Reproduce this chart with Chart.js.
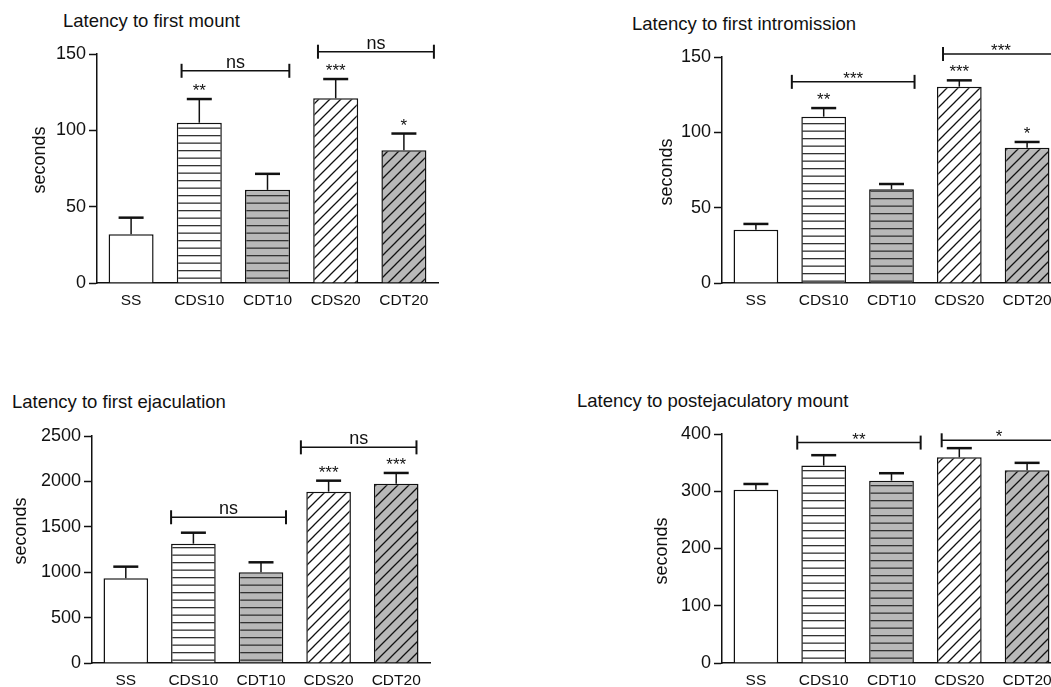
<!DOCTYPE html>
<html>
<head>
<meta charset="utf-8">
<script src="https://cdn.jsdelivr.net/npm/chart.js@4.4.1/dist/chart.umd.min.js"></script>
<style>
  html, body { margin: 0; padding: 0; background: #fff; }
  body { position: relative; width: 1051px; height: 687px; overflow: hidden; }
  .ttl { position: absolute; font-family: 'Liberation Sans', Arial, sans-serif; font-size: 18.5px; line-height: 18px; color: #111; white-space: nowrap; }
</style>
</head>
<body>
<div class="ttl" style="left:63px; top:12px;">Latency to first mount</div>
<div class="ttl" style="left:632px; top:15px;">Latency to first intromission</div>
<div class="ttl" style="left:12px; top:393px;">Latency to first ejaculation</div>
<div class="ttl" style="left:577px; top:392px;">Latency to postejaculatory mount</div>
<script>
// groups on the x axis
var groups = ['SS', 'CDS10', 'CDT10', 'CDS20', 'CDT20']

// latency to first mount (s)
var mountMean = [32, 105, 61, 121, 87]
var mountSem = [10.8, 15.5, 10.5, 12.6, 10.9]
var mountStars = ['', '**', '', '***', '*']
var mountBrackets = [
  { from: 0.74, to: 2.32, y: 139, label: 'ns' },
  { from: 2.74, to: 4.44, y: 151.5, label: 'ns' }
]

// latency to first intromission (s)
var introMean = [35.4, 110.4, 62.2, 130.3, 89.8]
var introSem = [3.8, 5.7, 3.5, 4.2, 3.8]
var introStars = ['', '**', '', '***', '*']
var introBrackets = [
  { from: 0.53, to: 2.34, y: 133.5, label: '***' },
  { from: 2.76, to: 4.47, y: 152, label: '***' }
]

// latency to first ejaculation (s)
var ejacMean = [933, 1314, 999, 1887, 1975]
var ejacSem = [128, 121, 110, 121, 118]
var ejacStars = ['', '', '', '***', '***']
var ejacBrackets = [
  { from: 0.67, to: 2.37, y: 1605, label: 'ns' },
  { from: 2.59, to: 4.30, y: 2375, label: 'ns' }
]

// latency to postejaculatory mount (s)
var postMean = [302.7, 345, 318.5, 359.3, 336.6]
var postSem = [10, 18, 13, 16, 13]
var postStars = ['', '', '', '', '']
var postBrackets = [
  { from: 0.61, to: 2.43, y: 385, label: '**' },
  { from: 2.74, to: 4.43, y: 389, label: '*' }
]

var FONT = "'Liberation Sans', Arial, sans-serif"
var INK = '#111'
var GRAY = '#b8b8b8'

// fill patterns for the bars
function stripes(bg) {
  var c = document.createElement('canvas')
  c.width = 8; c.height = 15
  var g = c.getContext('2d')
  g.fillStyle = bg
  g.fillRect(0, 0, 8, 15)
  g.fillStyle = '#333'
  g.fillRect(0, 0, 8, 1.3)
  g.fillRect(0, 7.5, 8, 1.3)
  return g.createPattern(c, 'repeat')
}

function hatch(bg) {
  var s = 11
  var c = document.createElement('canvas')
  c.width = s; c.height = s
  var g = c.getContext('2d')
  g.fillStyle = bg
  g.fillRect(0, 0, s, s)
  g.strokeStyle = INK
  g.lineWidth = 1.3
  g.beginPath()
  g.moveTo(-1, s + 1); g.lineTo(s + 1, -1)
  g.moveTo(-1, 1); g.lineTo(1, -1)
  g.moveTo(s - 1, s + 1); g.lineTo(s + 1, s - 1)
  g.stroke()
  return g.createPattern(c, 'repeat')
}

var fills = ['#ffffff', stripes('#ffffff'), stripes(GRAY), hatch('#ffffff'), hatch(GRAY)]

function line(ctx, x1, y1, x2, y2) {
  ctx.beginPath()
  ctx.moveTo(x1, y1)
  ctx.lineTo(x2, y2)
  ctx.stroke()
}

// error bars, stars, comparison brackets and the y label
function annotate(p, left, topC) {
  return {
    id: 'annotate',
    afterDraw: function(chart) {
      var ctx = chart.ctx
      var xs = chart.scales.x
      var ys = chart.scales.y
      var bars = chart.getDatasetMeta(0).data
      ctx.save()
      ctx.strokeStyle = INK
      ctx.fillStyle = INK
      ctx.textAlign = 'center'
      ctx.textBaseline = 'alphabetic'
      for (var i = 0; i < bars.length; i++) {
        var x = bars[i].x
        var top = ys.getPixelForValue(p.mean[i])
        var cap = ys.getPixelForValue(p.mean[i] + p.sem[i])
        ctx.lineWidth = 1.5
        line(ctx, x, top, x, cap)
        ctx.lineWidth = 2.5
        line(ctx, x - 12.5, cap, x + 12.5, cap)
        if (p.stars[i]) {
          ctx.font = '17px ' + FONT
          ctx.fillText(p.stars[i], x, cap - 3)
        }
      }
      p.brackets.forEach(function(b) {
        var x1 = xs.getPixelForValue(b.from)
        var x2 = xs.getPixelForValue(b.to)
        var y = ys.getPixelForValue(b.y)
        ctx.lineWidth = 1.5
        line(ctx, x1, y, x2, y)
        ctx.lineWidth = 2
        line(ctx, x1, y - 7, x1, y + 7)
        line(ctx, x2, y - 7, x2, y + 7)
        if (b.label === 'ns') {
          ctx.font = '18px ' + FONT
          ctx.fillText(b.label, (x1 + x2) / 2, y - 3)
        } else {
          ctx.font = '17px ' + FONT
          ctx.fillText(b.label, (x1 + x2) / 2, y + 2)
        }
      })
      // y axis title
      ctx.translate(p.labelX - left, p.labelY - topC)
      ctx.rotate(-Math.PI / 2)
      ctx.textBaseline = 'middle'
      ctx.font = '18px ' + FONT
      ctx.fillText('seconds', 0, 0)
      ctx.restore()
    }
  }
}

var panels = [
  { axisX: 97, top: 54, bottom: 283, right: 438, labelX: 40, labelY: 160, max: 150, step: 50,
    mean: mountMean, sem: mountSem, stars: mountStars, brackets: mountBrackets },
  { axisX: 722, top: 57, bottom: 283, right: 1061, labelX: 667, labelY: 172, max: 150, step: 50,
    mean: introMean, sem: introSem, stars: introStars, brackets: introBrackets },
  { axisX: 92, top: 436, bottom: 663, right: 430, labelX: 21, labelY: 531, max: 2500, step: 500,
    mean: ejacMean, sem: ejacSem, stars: ejacStars, brackets: ejacBrackets },
  { axisX: 722, top: 434, bottom: 663, right: 1061, labelX: 662, labelY: 551, max: 400, step: 100,
    mean: postMean, sem: postSem, stars: postStars, brackets: postBrackets }
]

var yW = 97
var xH = 30
var padTop = 54

panels.forEach(function(p) {
  var left = p.axisX - yW
  var topC = p.top - padTop
  var width = p.right + 12 - left
  var height = p.bottom + xH + 20 - topC
  var cv = document.createElement('canvas')
  cv.width = width
  cv.height = height
  cv.style.cssText = 'position:absolute;left:' + left + 'px;top:' + topC + 'px;width:' + width + 'px;height:' + height + 'px'
  document.body.appendChild(cv)

  new Chart(cv, {
    type: 'bar',
    data: {
      labels: groups,
      datasets: [{
        data: p.mean,
        backgroundColor: fills,
        borderColor: INK,
        borderWidth: 1.5,
        barPercentage: 0.66,
        categoryPercentage: 1
      }]
    },
    options: {
      responsive: false,
      animation: false,
      devicePixelRatio: 1,
      layout: { padding: { top: padTop, right: 12, bottom: 20, left: 0 } },
      plugins: { legend: { display: false }, tooltip: { enabled: false } },
      scales: {
        x: {
          grid: { display: true, drawOnChartArea: false, drawTicks: false },
          border: { color: INK, width: 1.5 },
          ticks: { color: INK, padding: 8, font: { family: FONT, size: 15.5 } },
          afterFit: function(s) { s.height = xH }
        },
        y: {
          min: 0,
          max: p.max,
          grid: { drawOnChartArea: false, tickLength: 8, tickColor: INK, tickWidth: 1.5 },
          border: { color: INK, width: 1.5 },
          ticks: {
            stepSize: p.step, color: INK, padding: 3, font: { family: FONT, size: 18 },
            callback: function(v) { return String(v) }
          },
          afterFit: function(s) { s.width = yW }
        }
      }
    },
    plugins: [annotate(p, left, topC)]
  })
})
</script>
</body>
</html>
